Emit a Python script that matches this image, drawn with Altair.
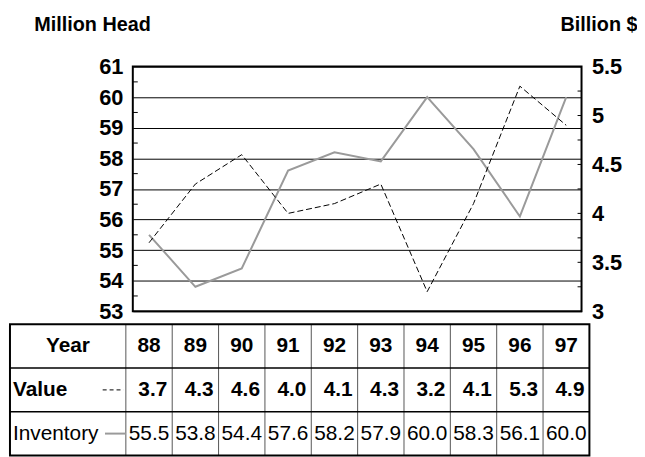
import altair as alt
import pandas as pd

# ---------------- data ----------------
years = [88, 89, 90, 91, 92, 93, 94, 95, 96, 97]
value = [3.7, 4.3, 4.6, 4.0, 4.1, 4.3, 3.2, 4.1, 5.3, 4.9]          # Billion $
inventory = [55.5, 53.8, 54.4, 57.6, 58.2, 57.9, 60.0, 58.3, 56.1, 60.0]  # Million Head
row_labels = ["Year", "Value", "Inventory"]
left_labels = [53, 54, 55, 56, 57, 58, 59, 60, 61]
left_minor = [53.5, 54.5, 55.5, 56.5, 57.5, 58.5, 59.5, 60.5]
right_labels = [3, 3.5, 4, 4.5, 5, 5.5]
right_minor = [3.25, 3.5, 3.75, 4.0, 4.25, 4.5, 4.75, 5.0, 5.25]

# ---------------- layout / style ----------------
FONT = "Liberation Sans"
W, H = 453, 247
X_DOM = [87.65, 97.33]
L_DOM = [53, 61]
R_DOM = [3, 5.5]
T_DOM = [0.3, 5.9]            # table units: one unit = one table row
TABLE_L, LABEL_R, TABLE_R = 85.0, 87.5, 97.5
ROW_Y = [-0.5, -1.5, -2.5]
TOP_EDGE, BOTTOM_EDGE = 0, -3
INNER_ROWS = [-1, -2]


def xsc():
    return alt.Scale(domain=X_DOM, nice=False, zero=False)


def sc(d):
    return alt.Scale(domain=d, nice=False, zero=False)


df = pd.DataFrame({"year": years, "value": value, "inventory": inventory})

inv_line = alt.Chart(df).mark_line(color="#9a9a9a", strokeWidth=2).encode(
    x=alt.X("year:Q", scale=xsc(), axis=None),
    y=alt.Y("inventory:Q", scale=sc(L_DOM), axis=alt.Axis(
        orient="left", values=left_labels, format="~g", title="Million Head",
        titleAngle=0, titleX=-100, titleY=-36, titleAlign="left",
        titleBaseline="alphabetic", grid=True, gridColor="black",
        gridWidth=1, labelPadding=10)),
)

val_line = alt.Chart(df).mark_line(color="black", strokeWidth=1,
                                   strokeDash=[6, 3]).encode(
    x=alt.X("year:Q", scale=xsc(), axis=None),
    y=alt.Y("value:Q", scale=sc(R_DOM), axis=alt.Axis(
        orient="right", values=right_labels, format="~g", title="Billion $",
        titleAngle=0, titleX=56, titleY=-36, titleAlign="right",
        titleBaseline="alphabetic", grid=False, labelPadding=10)),
)

left_ticks = alt.Chart(pd.DataFrame({"t": left_minor})).mark_rule(
    color="black", strokeWidth=1).encode(
    y=alt.Y("t:Q", scale=sc(L_DOM), axis=None),
    x=alt.value(0), x2=alt.value(5))

right_ticks = alt.Chart(pd.DataFrame({"t": right_minor})).mark_rule(
    color="black", strokeWidth=1).encode(
    y=alt.Y("t:Q", scale=sc(R_DOM), axis=None),
    x=alt.value(W - 4), x2=alt.value(W))

# ---------------- table ----------------
hdr_df = pd.DataFrame({
    "x": [(TABLE_L + LABEL_R) / 2] + years,
    "t": [row_labels[0]] + [str(y) for y in years],
    "ty": ROW_Y[0],
})
header = alt.Chart(hdr_df).mark_text(
    font=FONT, fontSize=21, fontWeight="bold", color="black",
    align="center", baseline="middle").encode(
    x=alt.X("x:Q", scale=xsc(), axis=None),
    y=alt.Y("ty:Q", scale=sc(T_DOM), axis=None),
    text="t:N")

lab_df = pd.DataFrame({"x": TABLE_L, "t": row_labels[1:], "ty": ROW_Y[1:]})
lab_bold = alt.Chart(lab_df.iloc[[0]]).mark_text(
    font=FONT, fontSize=21, fontWeight="bold", color="black",
    align="left", baseline="middle", dx=3).encode(
    x=alt.X("x:Q", scale=xsc(), axis=None),
    y=alt.Y("ty:Q", scale=sc(T_DOM), axis=None),
    text="t:N")
lab_norm = alt.Chart(lab_df.iloc[[1]]).mark_text(
    font=FONT, fontSize=21, fontWeight="normal", color="black",
    align="left", baseline="middle", dx=3).encode(
    x=alt.X("x:Q", scale=xsc(), axis=None),
    y=alt.Y("ty:Q", scale=sc(T_DOM), axis=None),
    text="t:N")

val_df = df.assign(xr=df["year"] + 0.5, ty=ROW_Y[1])
val_text = alt.Chart(val_df).mark_text(
    font=FONT, fontSize=21, fontWeight="bold", color="black",
    align="right", baseline="middle", dx=-5).encode(
    x=alt.X("xr:Q", scale=xsc(), axis=None),
    y=alt.Y("ty:Q", scale=sc(T_DOM), axis=None),
    text=alt.Text("value:Q", format=".1f"))

inv_df = df.assign(ty=ROW_Y[2])
inv_text = alt.Chart(inv_df).mark_text(
    font=FONT, fontSize=21, fontWeight="normal", color="black",
    align="center", baseline="middle").encode(
    x=alt.X("year:Q", scale=xsc(), axis=None),
    y=alt.Y("ty:Q", scale=sc(T_DOM), axis=None),
    text=alt.Text("inventory:Q", format=".1f"))

# legend samples inside the table
val_key = alt.Chart(pd.DataFrame({"x": [87.0], "x2": [87.45], "ty": [ROW_Y[1]]})).mark_rule(
    color="black", strokeWidth=1, strokeDash=[4, 3]).encode(
    x=alt.X("x:Q", scale=xsc(), axis=None), x2="x2:Q",
    y=alt.Y("ty:Q", scale=sc(T_DOM), axis=None))
inv_key = alt.Chart(pd.DataFrame({"x": [87.05], "x2": [87.5], "ty": [ROW_Y[2]]})).mark_rule(
    color="#9a9a9a", strokeWidth=2).encode(
    x=alt.X("x:Q", scale=xsc(), axis=None), x2="x2:Q",
    y=alt.Y("ty:Q", scale=sc(T_DOM), axis=None))

# table grid
hlines = alt.Chart(pd.DataFrame({"x": TABLE_L, "x2": TABLE_R, "ty": INNER_ROWS})).mark_rule(
    color="black", strokeWidth=1.5).encode(
    x=alt.X("x:Q", scale=xsc(), axis=None), x2="x2:Q",
    y=alt.Y("ty:Q", scale=sc(T_DOM), axis=None))
vx = [LABEL_R] + [y + 0.5 for y in years[:-1]]
vlines = alt.Chart(pd.DataFrame({"x": vx, "y1": TOP_EDGE, "y2": BOTTOM_EDGE})).mark_rule(
    color="#555555", strokeWidth=1).encode(
    x=alt.X("x:Q", scale=xsc(), axis=None),
    y=alt.Y("y1:Q", scale=sc(T_DOM), axis=None), y2="y2:Q")
border = alt.Chart(pd.DataFrame({"x": [TABLE_L], "x2": [TABLE_R],
                                 "y1": [TOP_EDGE], "y2": [BOTTOM_EDGE]})).mark_rect(
    fill=None, stroke="black", strokeWidth=2, fillOpacity=0).encode(
    x=alt.X("x:Q", scale=xsc(), axis=None), x2="x2:Q",
    y=alt.Y("y1:Q", scale=sc(T_DOM), axis=None), y2="y2:Q")

chart = alt.layer(
    inv_line, val_line, left_ticks, right_ticks,
    vlines, hlines, border, header, lab_bold, lab_norm, val_text, inv_text,
    val_key, inv_key,
).resolve_scale(y="independent").properties(
    width=W, height=H,
    padding={"top": 5, "left": 0, "right": 0, "bottom": 0},
).configure_view(
    stroke="black", strokeWidth=2
).configure_axis(
    labelFont=FONT, labelFontSize=22, labelFontWeight="bold", labelColor="black",
    titleFont=FONT, titleFontSize=20, titleFontWeight="bold", titleColor="black",
    domain=False, ticks=False, tickSize=0,
)

chart.save("out.html", embed_options={"renderer": "svg", "actions": False})
